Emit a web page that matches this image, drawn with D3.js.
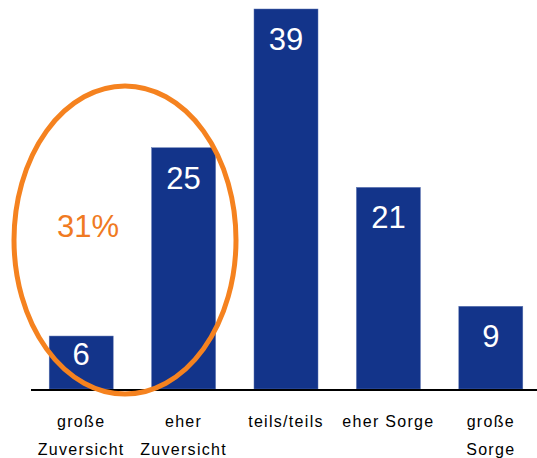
<!DOCTYPE html>
<html><head><meta charset="utf-8">
<script src="https://cdn.jsdelivr.net/npm/d3@7"></script>
<style>body{margin:0;background:#fff}</style>
</head><body>
<script>
const categories = [["große","Zuversicht"],["eher","Zuversicht"],["teils/teils"],["eher Sorge"],["große","Sorge"]];
const values = [6, 25, 39, 21, 9];
const highlightLabel = "31%";

const W = 537, H = 458;
const svg = d3.select("body").append("svg").attr("width", W).attr("height", H);
const base = 389;
const x = d3.scaleBand().domain(d3.range(categories.length)).range([30, 542]).paddingInner(0.375).paddingOuter(0.1875);
const y = d3.scaleLinear().domain([0, 39]).range([395.5, 9]);

svg.selectAll("rect.bar").data(values).join("rect")
  .attr("class","bar")
  .attr("x",(d,i)=>x(i)).attr("width",x.bandwidth())
  .attr("y",d=>y(d)).attr("height",d=>base-y(d))
  .attr("fill","#13348A").attr("stroke","#5a72b0").attr("stroke-width",0.5);

svg.selectAll("text.val").data(values).join("text")
  .attr("class","val")
  .attr("x",(d,i)=>x(i)+x.bandwidth()/2)
  .attr("y",d=>Math.min(y(d)+41, base-24))
  .attr("text-anchor","middle")
  .attr("fill","#fff")
  .attr("font-family","Liberation Sans, Arial, sans-serif")
  .attr("font-size",31)
  .text(d=>d);

// axis line
svg.append("line").attr("x1",31).attr("x2",W).attr("y1",base+1).attr("y2",base+1)
  .attr("stroke","#000").attr("stroke-width",2);

// category labels
const lab = svg.selectAll("text.cat").data(categories).join("text")
  .attr("class","cat")
  .attr("text-anchor","middle")
  .attr("font-family","Liberation Sans, Arial, sans-serif")
  .attr("font-size",16)
  .attr("letter-spacing",1.3)
  .attr("fill","#000");
lab.each(function(d,i){
  const t = d3.select(this);
  d.forEach((line,j)=>{
    t.append("tspan").attr("x",x(i)+x.bandwidth()/2).attr("y",427+j*28).text(line);
  });
});

// highlight ellipse
svg.append("ellipse").attr("cx",125).attr("cy",240).attr("rx",111).attr("ry",154)
  .attr("fill","none").attr("stroke","#F5821F").attr("stroke-width",5);
svg.append("text").attr("x",88).attr("y",237).attr("text-anchor","middle")
  .attr("fill","#F07A22").attr("font-family","Liberation Sans, Arial, sans-serif")
  .attr("font-size",31).text(highlightLabel);
</script>
</body></html>
